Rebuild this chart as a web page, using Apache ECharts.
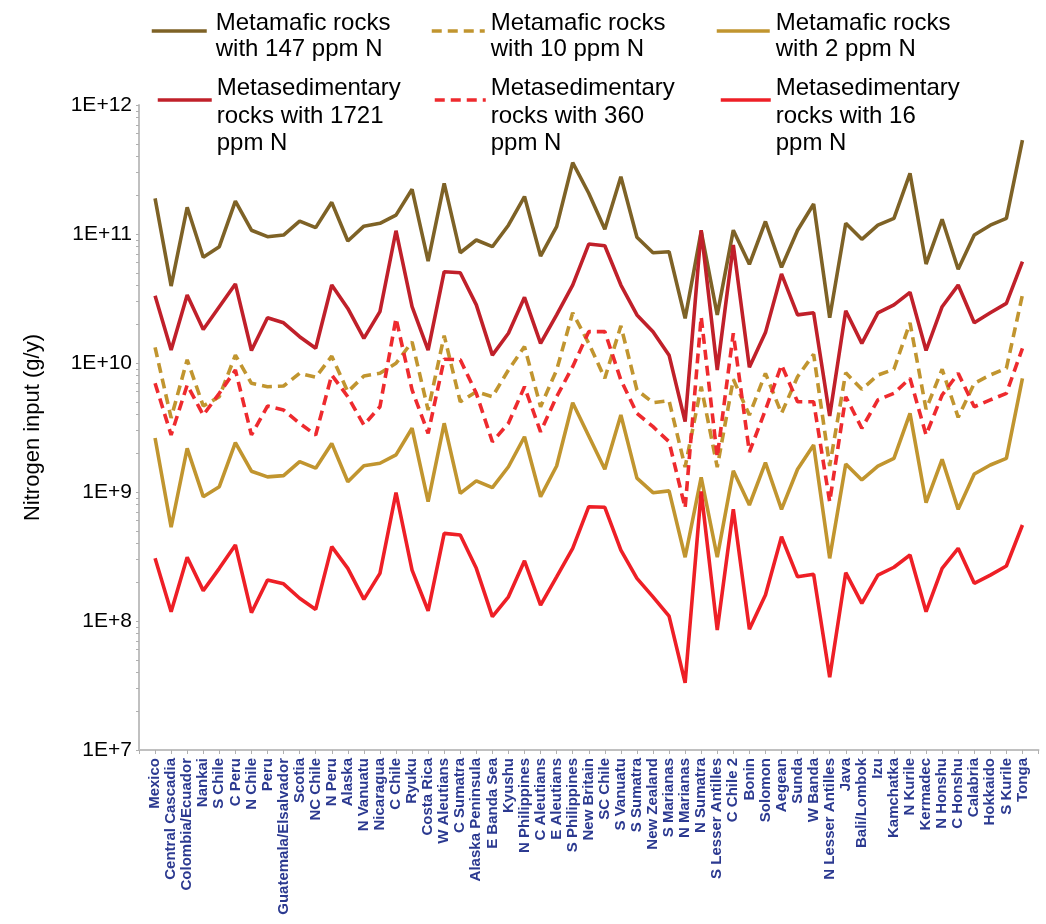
<!DOCTYPE html>
<html><head><meta charset="utf-8">
<script src="https://cdn.jsdelivr.net/npm/echarts@6/dist/echarts.min.js"></script>
<style>html,body{margin:0;padding:0;background:#fff}#chart{width:1046px;height:924px}</style>
</head><body><div id="chart"></div>
<script>
const categories = ['Mexico','Central Cascadia','Colombia/Ecuador','Nankai','S Chile','C Peru','N Chile','Peru','Guatemala/Elsalvador','Scotia','NC Chile','N Peru','Alaska','N Vanuatu','Nicaragua','C Chile','Ryuku','Costa Rica','W Aleutians','C Sumatra','Alaska Peninsula','E Banda Sea','Kyushu','N Philippines','C Aleutians','E Aleutians','S Philippines','New Britain','SC Chile','S Vanuatu','S Sumatra','New Zealand','S Marianas','N Marianas','N Sumatra','S Lesser Antilles','C Chile 2','Bonin','Solomon','Aegean','Sunda','W Banda','N Lesser Antilles','Java','Bali/Lombok','Izu','Kamchatka','N Kurile','Kermadec','N Honshu','C Honshu','Calabria','Hokkaido','S Kurile','Tonga'];

const seriesNames = ['Metamafic rocks with 147 ppm N','Metamafic rocks with 10 ppm N','Metamafic rocks with 2 ppm N','Metasedimentary rocks with 1721 ppm N','Metasedimentary rocks with 360 ppm N','Metasedimentary rocks with 16 ppm N'];
const legendLines = [['Metamafic rocks','with 147 ppm N'],['Metamafic rocks','with 10 ppm N'],['Metamafic rocks','with 2 ppm N'],['Metasedimentary','rocks with 1721','ppm N'],['Metasedimentary','rocks with 360','ppm N'],['Metasedimentary','rocks with 16','ppm N']];

const metamafic147 = [1.89e11,3.95e10,1.61e11,6.60e10,7.97e10,1.80e11,1.07e11,9.53e10,9.82e10,1.26e11,1.12e11,1.76e11,8.82e10,1.15e11,1.21e11,1.40e11,2.22e11,6.17e10,2.47e11,7.16e10,8.98e10,7.97e10,1.17e11,1.95e11,6.75e10,1.14e11,3.57e11,2.07e11,1.09e11,2.78e11,9.43e10,7.16e10,7.29e10,2.22e10,1.05e11,2.36e10,1.07e11,5.82e10,1.25e11,5.52e10,1.07e11,1.71e11,2.24e10,1.21e11,9.10e10,1.17e11,1.32e11,2.95e11,5.85e10,1.30e11,5.33e10,9.82e10,1.17e11,1.32e11,5.35e11];
const metamafic10 = [1.32e10,3.75e9,1.06e10,4.64e9,5.48e9,1.15e10,6.96e9,6.55e9,6.63e9,8.32e9,7.75e9,1.13e10,5.99e9,7.93e9,8.32e9,9.95e9,1.46e10,4.32e9,1.63e10,5.01e9,5.99e9,5.48e9,8.82e9,1.34e10,4.58e9,8.82e9,2.45e10,1.42e10,7.61e9,1.94e10,6.18e9,4.92e9,5.10e9,1.56e9,6.55e9,1.56e9,7.47e9,3.95e9,8.32e9,4.07e9,7.83e9,1.17e10,1.59e9,8.41e9,6.25e9,8.07e9,8.94e9,2.05e10,4.38e9,8.94e9,3.79e9,6.96e9,8.07e9,9.10e9,3.37e10];
const metamafic2 = [2.62e9,5.33e8,2.18e9,9.20e8,1.10e9,2.41e9,1.45e9,1.31e9,1.34e9,1.72e9,1.53e9,2.38e9,1.20e9,1.60e9,1.67e9,1.94e9,3.12e9,8.41e8,3.41e9,9.77e8,1.22e9,1.08e9,1.57e9,2.68e9,9.20e8,1.59e9,4.92e9,2.72e9,1.50e9,3.95e9,1.28e9,9.88e8,1.02e9,3.12e8,1.30e9,3.12e8,1.46e9,7.93e8,1.69e9,7.34e8,1.50e9,2.31e9,3.06e8,1.65e9,1.24e9,1.59e9,1.82e9,4.07e9,8.26e8,1.79e9,7.34e8,1.38e9,1.62e9,1.82e9,7.61e9];
const metased1721 = [3.32e10,1.26e10,3.37e10,1.82e10,2.73e10,4.10e10,1.25e10,2.24e10,2.05e10,1.60e10,1.30e10,4.02e10,2.65e10,1.55e10,2.50e10,1.06e11,2.73e10,1.26e10,5.10e10,5.01e10,2.82e10,1.15e10,1.70e10,3.23e10,1.42e10,2.36e10,4.02e10,8.36e10,8.11e10,4.02e10,2.36e10,1.75e10,1.15e10,3.51e9,1.07e11,8.82e9,8.21e10,9.26e9,1.72e10,4.90e10,2.36e10,2.45e10,3.88e9,2.54e10,1.42e10,2.45e10,2.82e10,3.53e10,1.25e10,2.73e10,4.02e10,2.05e10,2.45e10,2.90e10,6.10e10];
const metased360 = [6.96e9,2.77e9,6.75e9,3.95e9,5.82e9,8.82e9,2.77e9,4.64e9,4.32e9,3.41e9,2.77e9,8.07e9,5.48e9,3.31e9,4.58e9,2.22e10,6.18e9,2.85e9,1.07e10,1.06e10,5.82e9,2.45e9,3.41e9,6.55e9,2.93e9,5.48e9,9.36e9,1.75e10,1.75e10,7.38e9,4.07e9,3.21e9,2.45e9,7.52e8,2.28e10,1.87e9,1.70e10,2.04e9,4.32e9,9.65e9,5.01e9,5.01e9,8.41e8,5.48e9,3.12e9,5.17e9,5.82e9,7.61e9,2.77e9,5.65e9,8.32e9,4.58e9,5.17e9,5.82e9,1.30e10];
const metased16 = [3.06e8,1.18e8,3.12e8,1.72e8,2.56e8,3.88e8,1.16e8,2.08e8,1.94e8,1.50e8,1.23e8,3.77e8,2.56e8,1.47e8,2.34e8,9.88e8,2.48e8,1.20e8,4.78e8,4.64e8,2.56e8,1.08e8,1.54e8,2.93e8,1.33e8,2.20e8,3.66e8,7.69e8,7.61e8,3.55e8,2.14e8,1.54e8,1.09e8,3.32e7,1.01e9,8.51e7,7.34e8,8.62e7,1.59e8,4.50e8,2.20e8,2.30e8,3.66e7,2.37e8,1.37e8,2.27e8,2.61e8,3.25e8,1.18e8,2.56e8,3.66e8,1.96e8,2.27e8,2.67e8,5.55e8];

const yTickLabels = ['1E+7','1E+8','1E+9','1E+10','1E+11','1E+12'];
const yAxisTitle = 'Nitrogen input (g/y)';

const allSeries = [metamafic147, metamafic10, metamafic2, metased1721, metased360, metased16];
const colors = ['#7e6226','#c1952f','#c1952f','#c0202a','#ee2a2e','#ee1f26'];
const dashed = [false, true, false, false, true, false];

// minor (log-spaced) tick positions, in exponent units
const minorTickPos = [];
for (let n = 7; n < 12; n++) for (let k = 1; k <= 9; k++) minorTickPos.push(n + Math.log10(k));
minorTickPos.push(12);

const axisCats = [''].concat(categories, [' ']);
const FONT = '"Liberation Sans", Arial, sans-serif';

const legendPos = [
  {left:150, w:55, pl:4, top:-0.5, sp:11, lh:26},
  {left:430, w:53, pl:1, top:-0.5, sp:11, lh:26},
  {left:715, w:53, pl:1, top:-0.5, sp:11, lh:26},
  {left:156, w:54, pl:0, top:42.75, sp:32, lh:27.5},
  {left:433, w:51, pl:0, top:42.75, sp:32, lh:27.5},
  {left:719, w:50, pl:0, top:42.75, sp:32, lh:27.5}
];

const chart = echarts.init(document.getElementById('chart'), null, {renderer:'canvas'});
chart.setOption({
  animation: false,
  backgroundColor: '#fff',
  grid: {left: 139, right: -7.3, top: 105, bottom: 174, containLabel: false},
  legend: legendPos.map((p, i) => ({
    data: [seriesNames[i]],
    left: p.left, top: p.top, padding: 0,
    itemWidth: p.w, itemHeight: 14,
    itemStyle: {opacity: 0},
    lineStyle: {width: 3.5},
    formatter: () => '{sp|}\n' + legendLines[i].map(s => '{t|' + s + '}').join('\n'),
    textStyle: {fontSize: 24, fontFamily: FONT, color: '#000',
      rich: {
        sp: {height: p.sp, lineHeight: p.sp, fontSize: 2},
        t: {fontSize: 24, fontFamily: FONT, color: '#000', lineHeight: p.lh, padding: [0, 0, 0, p.pl]}
      }},
    selectedMode: false
  })),
  xAxis: {
    type: 'category', data: axisCats, boundaryGap: false,
    axisLine: {lineStyle: {color: '#c0c0c0', width: 2}},
    axisTick: {show: true, interval: 0, length: 4, lineStyle: {color: '#b0b0b0', width: 1}},
    axisLabel: {interval: 0, rotate: 90, margin: 8, color: '#2b3990', fontWeight: 'bold', fontSize: 15, fontFamily: FONT},
    splitLine: {show: false}
  },
  yAxis: [{
    type: 'log', logBase: 10, min: 1e7, max: 1e12, interval: 1,
    name: yAxisTitle, nameLocation: 'middle', nameGap: 95, nameRotate: 90,
    nameTextStyle: {fontSize: 22, fontFamily: FONT, color: '#000'},
    axisLine: {show: true, lineStyle: {color: '#c0c0c0', width: 2}},
    axisTick: {show: false},
    axisLabel: {margin: 7, fontSize: 21, fontFamily: FONT, color: '#000',
      formatter: v => yTickLabels[Math.round(Math.log10(v)) - 7] || ''},
    splitLine: {show: false}, minorSplitLine: {show: false}
  }, {
    type: 'value', min: 7, max: 12, position: 'left', gridIndex: 0,
    axisLine: {show: false}, axisLabel: {show: false}, splitLine: {show: false},
    axisTick: {show: true, customValues: minorTickPos, length: 3, lineStyle: {color: '#b0b0b0', width: 1}}
  }],
  series: allSeries.map((vals, i) => ({
    name: seriesNames[i], type: 'line', yAxisIndex: 0,
    symbol: 'none', showSymbol: false, smooth: false,
    lineStyle: {color: colors[i], width: 3.6, type: dashed[i] ? [10, 6] : 'solid'},
    itemStyle: {color: colors[i]},
    data: vals.map((v, j) => [j + 1, v])
  }))
});
</script></body></html>
